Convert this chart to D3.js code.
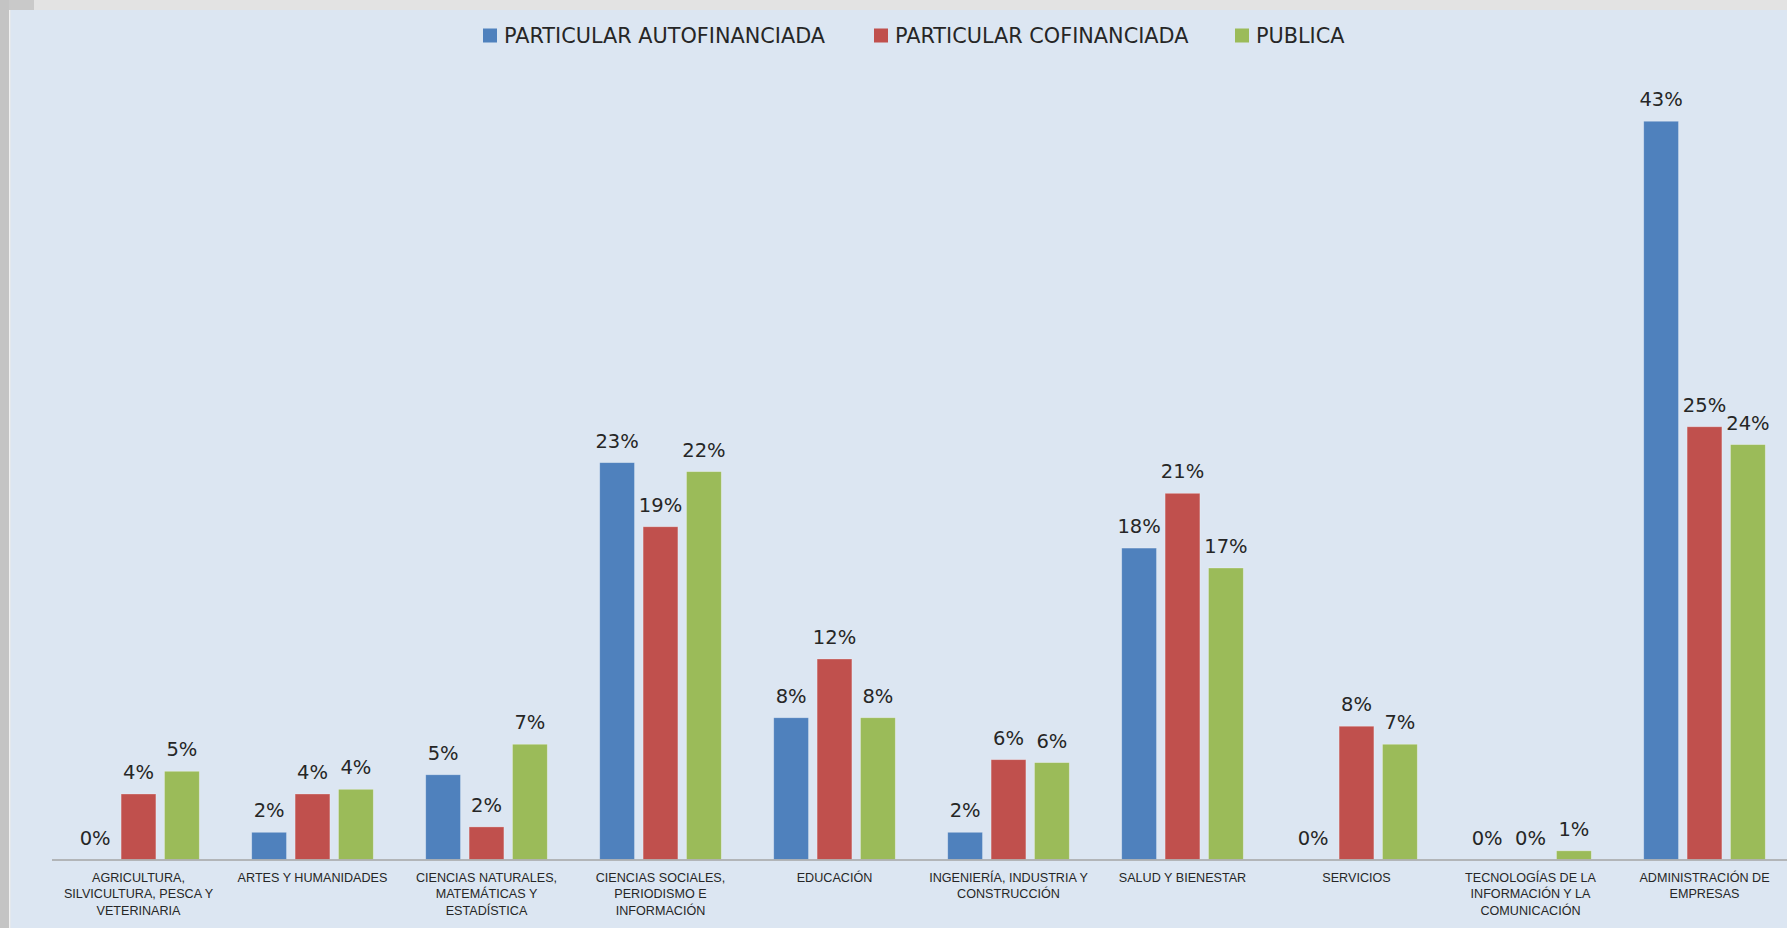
<!DOCTYPE html>
<html>
<head>
<meta charset="utf-8">
<script src="https://cdn.jsdelivr.net/npm/d3@7"></script>
<style>
  body { margin: 0; background: #e2e2e2; }
  svg { display: block; }
</style>
</head>
<body>
<div id="chart"></div>
<script>
// データ（％）
var categories = [
  ['AGRICULTURA,', 'SILVICULTURA, PESCA Y', 'VETERINARIA'],
  ['ARTES Y HUMANIDADES'],
  ['CIENCIAS NATURALES,', 'MATEMÁTICAS Y', 'ESTADÍSTICA'],
  ['CIENCIAS SOCIALES,', 'PERIODISMO E', 'INFORMACIÓN'],
  ['EDUCACIÓN'],
  ['INGENIERÍA, INDUSTRIA Y', 'CONSTRUCCIÓN'],
  ['SALUD Y BIENESTAR'],
  ['SERVICIOS'],
  ['TECNOLOGÍAS DE LA', 'INFORMACIÓN Y LA', 'COMUNICACIÓN'],
  ['ADMINISTRACIÓN DE', 'EMPRESAS']
]
var seriesNames = ['PARTICULAR AUTOFINANCIADA', 'PARTICULAR COFINANCIADA', 'PUBLICA']
var autofinanciada = [0, 1.57, 4.89, 22.9, 8.18, 1.57, 17.97, 0, 0, 42.6]
var cofinanciada = [3.78, 3.78, 1.88, 19.2, 11.57, 5.76, 21.13, 7.69, 0, 24.97]
var publica = [5.09, 4.05, 6.65, 22.38, 8.18, 5.59, 16.82, 6.65, 0.5, 23.94]

var colors = ['#4f81bd', '#c0504d', '#9bbb59']
var width = 1787, height = 928

var rows = categories.map(function(c, i) {
  return { idx: i, lines: c, vals: [autofinanciada[i], cofinanciada[i], publica[i]] }
})

var svg = d3.select('#chart').append('svg')
  .attr('width', width)
  .attr('height', height)

// 背景・枠
svg.append('rect').attr('x', 0).attr('y', 0).attr('width', width).attr('height', height).attr('fill', '#e3e3e3')
svg.append('rect').attr('x', 0).attr('y', 0).attr('width', 34).attr('height', 10).attr('fill', '#c9c9c9')
svg.append('rect').attr('x', 0).attr('y', 0).attr('width', 9).attr('height', height).attr('fill', '#c4c4c4')
svg.append('rect').attr('x', 9).attr('y', 10).attr('width', 1.5).attr('height', height).attr('fill', '#f2f2f2')
svg.append('rect').attr('x', 10.5).attr('y', 10).attr('width', width).attr('height', height).attr('fill', '#dce6f2')

// スケール
var x0 = d3.scaleBand()
  .domain(d3.range(categories.length))
  .range([51.5, 1791.5])

var x1 = d3.scaleBand()
  .domain([0, 1, 2])
  .range([0, x0.bandwidth()])
  .paddingInner(0.198)
  .paddingOuter(0.604)

var y = d3.scaleLinear()
  .domain([0, 45])
  .range([859.5, 859.5 - 45 * 17.33])

// 棒
var groups = svg.append('g').selectAll('g')
  .data(rows)
  .enter()
  .append('g')
  .attr('transform', function(d) { return 'translate(' + x0(d.idx) + ',0)' })

groups.selectAll('rect')
  .data(function(d) { return d.vals.map(function(v, s) { return { s: s, v: v } }) })
  .enter()
  .append('rect')
  .attr('x', function(d) { return x1(d.s) })
  .attr('y', function(d) { return y(d.v) })
  .attr('width', x1.bandwidth())
  .attr('height', function(d) { return y(0) - y(d.v) })
  .attr('fill', function(d) { return colors[d.s] })
  .attr('stroke', 'rgba(255,255,255,0.35)')
  .attr('stroke-width', 0.8)

// データラベル
groups.selectAll('text')
  .data(function(d) { return d.vals.map(function(v, s) { return { s: s, v: v } }) })
  .enter()
  .append('text')
  .attr('x', function(d) { return x1(d.s) + x1.bandwidth() / 2 })
  .attr('y', function(d) { return y(d.v) - 15 })
  .attr('text-anchor', 'middle')
  .attr('font-family', 'DejaVu Sans, sans-serif')
  .attr('font-size', 19.5)
  .attr('fill', '#262626')
  .text(function(d) { return Math.round(d.v) + '%' })

// 軸
var xAxis = svg.append('g')
  .attr('transform', 'translate(0,' + y(0) + ')')
  .call(d3.axisBottom(x0).tickSize(0).tickFormat(''))
xAxis.select('.domain').attr('stroke', '#a5a5a5').attr('stroke-width', 1.5)

// カテゴリラベル
svg.append('g').selectAll('text')
  .data(rows)
  .enter()
  .append('text')
  .attr('x', function(d) { return x0(d.idx) + x0.bandwidth() / 2 })
  .attr('y', 881.5)
  .attr('text-anchor', 'middle')
  .attr('font-family', 'Liberation Sans Narrow, Liberation Sans, Arial, sans-serif')
  .attr('font-size', 12.6)
  .attr('fill', '#262626')
  .selectAll('tspan')
  .data(function(d) { return d.lines })
  .enter()
  .append('tspan')
  .attr('x', function() { var p = d3.select(this.parentNode).datum(); return x0(p.idx) + x0.bandwidth() / 2 })
  .attr('dy', function(l, i) { return i === 0 ? 0 : 16.5 })
  .text(function(l) { return l })

// 凡例
var legendX = [483, 874, 1235]
var legend = svg.append('g').selectAll('g')
  .data(seriesNames)
  .enter()
  .append('g')
  .attr('transform', function(d, i) { return 'translate(' + legendX[i] + ',28.5)' })

legend.append('rect')
  .attr('width', 14)
  .attr('height', 14)
  .attr('fill', function(d, i) { return colors[i] })

legend.append('text')
  .attr('x', 21)
  .attr('y', 14)
  .attr('font-family', 'DejaVu Sans, sans-serif')
  .attr('font-size', 20.8)
  .attr('fill', '#262626')
  .text(function(d) { return d })
</script>
</body>
</html>
